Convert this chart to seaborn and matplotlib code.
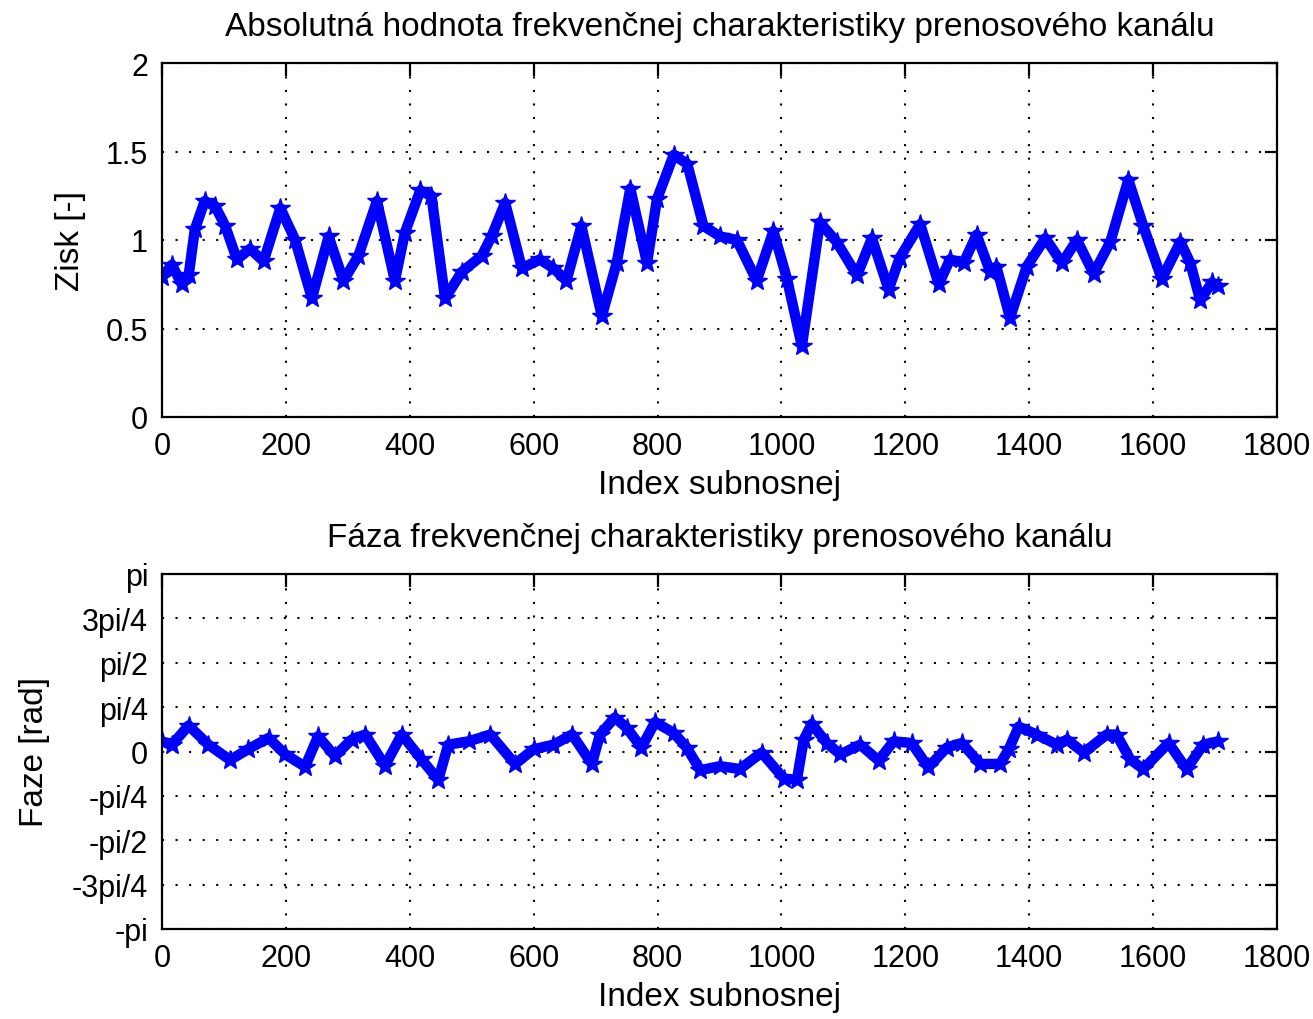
import numpy as np
import pandas as pd
import matplotlib
matplotlib.use("Agg")
import matplotlib.pyplot as plt
import seaborn as sns

# ---- data ----
mag_idx = [0, 16, 32, 43, 53, 69, 86, 102, 121, 142,
           164, 191, 215, 242, 269, 293, 317, 347, 376, 392,
           417, 435, 457, 484, 516, 532, 554, 581, 610, 632,
           653, 677, 710, 734, 756, 783, 799, 826, 848, 874,
           901, 928, 960, 987, 1009, 1033, 1062, 1089, 1122, 1146,
           1173, 1191, 1224, 1254, 1272, 1294, 1315, 1337, 1347, 1369,
           1396, 1426, 1453, 1477, 1504, 1531, 1560, 1584, 1614, 1644,
           1660, 1676, 1695, 1705]
mag_val = [0.79, 0.86, 0.75, 0.80, 1.06, 1.22, 1.19, 1.08, 0.89, 0.95,
           0.88, 1.18, 1.00, 0.67, 1.02, 0.77, 0.91, 1.22, 0.77, 1.04,
           1.28, 1.25, 0.67, 0.82, 0.91, 1.02, 1.21, 0.84, 0.89, 0.84,
           0.77, 1.08, 0.57, 0.87, 1.29, 0.87, 1.23, 1.48, 1.43, 1.08,
           1.02, 1.00, 0.77, 1.05, 0.78, 0.40, 1.10, 0.99, 0.80, 1.01,
           0.72, 0.90, 1.09, 0.75, 0.89, 0.87, 1.03, 0.82, 0.85, 0.56,
           0.85, 1.01, 0.87, 1.00, 0.81, 0.99, 1.34, 1.08, 0.78, 0.99,
           0.87, 0.66, 0.76, 0.74]

ph_idx = [0, 16, 43, 75, 110, 139, 172, 199, 231, 252,
          279, 306, 328, 360, 387, 419, 446, 462, 495, 530,
          570, 600, 632, 662, 694, 707, 731, 750, 774, 796,
          826, 847, 869, 901, 933, 968, 1004, 1025, 1036, 1049,
          1073, 1095, 1127, 1157, 1181, 1210, 1237, 1267, 1291, 1321,
          1353, 1367, 1383, 1412, 1445, 1461, 1488, 1525, 1541, 1563,
          1584, 1625, 1654, 1681, 1705]
ph_val = [0.18, 0.12, 0.46, 0.12, -0.15, 0.04, 0.24, -0.05, -0.27, 0.27,
          -0.08, 0.21, 0.30, -0.25, 0.30, -0.14, -0.50, 0.12, 0.18, 0.30,
          -0.22, 0.04, 0.12, 0.30, -0.22, 0.30, 0.60, 0.42, 0.07, 0.52,
          0.33, 0.07, -0.33, -0.26, -0.31, -0.02, -0.48, -0.50, 0.21, 0.49,
          0.15, -0.05, 0.12, -0.16, 0.18, 0.15, -0.28, 0.07, 0.15, -0.22,
          -0.22, 0.04, 0.44, 0.30, 0.12, 0.21, -0.02, 0.30, 0.30, -0.14,
          -0.31, 0.15, -0.31, 0.12, 0.18]

x_ticks = [0, 200, 400, 600, 800, 1000, 1200, 1400, 1600, 1800]
mag_ticks = [0, 0.5, 1, 1.5, 2]
mag_tick_labels = ["0", "0.5", "1", "1.5", "2"]
ph_tick_labels = ["-pi", "-3pi/4", "-pi/2", "-pi/4", "0", "pi/4", "pi/2", "3pi/4", "pi"]
ph_ticks = [k * np.pi / 4 for k in range(-4, 5)]

title_top = "Absolutná hodnota frekvenčnej charakteristiky prenosového kanálu"
title_bot = "Fáza frekvenčnej charakteristiky prenosového kanálu"
xlabel = "Index subnosnej"
ylabel_top = "Zisk [-]"
ylabel_bot = "Faze [rad]"

df_mag = pd.DataFrame({"idx": mag_idx, "val": mag_val})
df_ph = pd.DataFrame({"idx": ph_idx, "val": ph_val})

sns.set_theme(style="white")
plt.rcParams["font.family"] = ["Liberation Sans", "DejaVu Sans"]
plt.rcParams["text.color"] = "black"
plt.rcParams["axes.labelcolor"] = "black"
plt.rcParams["xtick.color"] = "black"
plt.rcParams["ytick.color"] = "black"

fig = plt.figure(figsize=(13.13, 10.20), dpi=100)
ax1 = fig.add_axes([162 / 1313, 1 - 418 / 1020, (1277 - 162) / 1313, (418 - 64) / 1020])
ax2 = fig.add_axes([162 / 1313, 1 - 930 / 1020, (1277 - 162) / 1313, (930 - 575) / 1020])

tick_fs = 22
label_fs = 24

for ax, df, yt, ytl, ylim, title, ylab, ypad in [
    (ax1, df_mag, mag_ticks, mag_tick_labels, (0, 2), title_top, ylabel_top, 14),
    (ax2, df_ph, ph_ticks, ph_tick_labels, (-np.pi, np.pi), title_bot, ylabel_bot, 16),
]:
    sns.lineplot(data=df, x="idx", y="val", ax=ax, color="blue", linewidth=7.5,
                 marker="*", markersize=15, markeredgecolor="blue",
                 markerfacecolor="blue", markeredgewidth=1.0, legend=False)
    ax.set_xlim(0, 1800)
    ax.set_ylim(*ylim)
    ax.set_xticks(x_ticks)
    ax.set_xticklabels([str(t) for t in x_ticks])
    ax.set_yticks(yt)
    ax.set_yticklabels(ytl)
    ax.grid(True, color="black", linestyle=(0, (1, 5.5)), linewidth=1.5)
    ax.set_axisbelow(True)
    for sp in ax.spines.values():
        sp.set_visible(True)
        sp.set_color("black")
        sp.set_linewidth(1.6)
    ax.tick_params(direction="in", length=9, width=1.6, top=True, right=True,
                   labelsize=tick_fs, pad=10, colors="black")
    ax.set_title(title, fontsize=label_fs, pad=20, color="black")
    ax.set_xlabel(xlabel, fontsize=label_fs, labelpad=6)
    ax.set_ylabel(ylab, fontsize=label_fs, labelpad=ypad)

fig.savefig("out.png", dpi=100, facecolor="white")
